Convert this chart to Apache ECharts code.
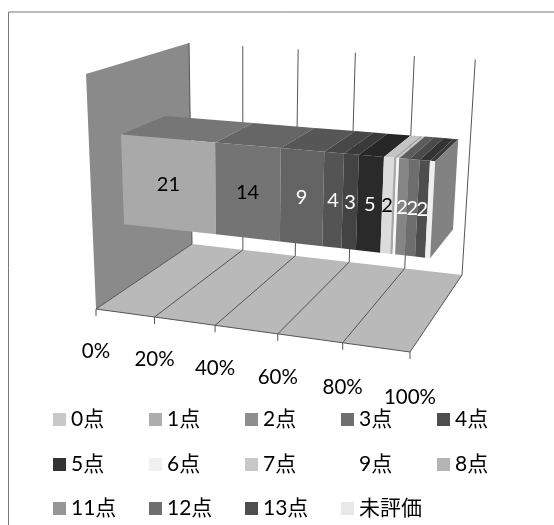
<!DOCTYPE html>
<html>
<head>
<meta charset="utf-8">
<style>html,body{margin:0;padding:0;background:#fff}#chart{width:554px;height:525px}</style>
<script src="https://cdn.jsdelivr.net/npm/echarts@6/dist/echarts.min.js"></script>
</head>
<body>
<div id="chart"></div>
<script>
// Score distribution: one 100% stacked bar shown in a perspective box.
const scoreNames = ['0点','1点','2点','3点','4点','5点','6点','7点','9点','8点','11点','12点','13点','未評価'];
const scoreCounts = [21,14,9,4,3,5,2,0.5,0.5,0,2,2,2,1];
const shownLabels = [21,14,9,4,3,5,2,null,null,null,2,2,2,null];
const frontColors = ['#a9a9a9','#747474','#646464','#545454','#434343','#2a2a2a','#dcdcdc','#a8a8a8','#f6f6f6','#b0b0b0','#858585','#6e6e6e','#4e4e4e','#eeeeee'];
const topColors = ['#767676','#666666','#565656','#474747','#3a3a3a','#262626','#c4c4c4','#a0a0a0','#c8c8c8','#999999','#5c5c5c','#4a4a4a','#333333','#3a3a3a'];
const legendColors = ['#c8c8c8','#aeaeae','#8e8e8e','#6e6e6e','#4e4e4e','#333333','#f0f0f0','#c8c8c8','#ffffff','#b4b4b4','#969696','#6e6e6e','#4e4e4e','#e8e8e8'];
const labelColors = ['#000','#000','#fff','#fff','#fff','#fff','#000','#fff','#fff','#fff','#fff','#fff','#fff','#fff'];
const percentTicks = [0,20,40,60,80,100];
const legendRows = [['0点','1点','2点','3点','4点'],['5点','6点','7点','9点','8点'],['11点','12点','13点','未評価']];

const FONT = 'Lato, "Noto Sans CJK JP", sans-serif';

// Pinhole-style projection of the unit box: u along the value axis, v into the depth, w upward.
const origin = [96,309], uEnd = [410,352], vEnd = [192,244], wEnd = [86,74];
const alpha = -0.0838, beta = 0.1791, gamma = -0.063;
const basis = [[uEnd,alpha],[vEnd,beta],[wEnd,gamma]].map(([e,k]) => [(1+k)*e[0]-origin[0],(1+k)*e[1]-origin[1]]);
function project(u,v,w){
  const d = 1+alpha*u+beta*v+gamma*w;
  return [
    (origin[0]+u*basis[0][0]+v*basis[1][0]+w*basis[2][0])/d,
    (origin[1]+u*basis[0][1]+v*basis[1][1]+w*basis[2][1])/d
  ];
}
const barFront = 0.28, barBack = 0.72, barLow = 0.3, barHigh = 0.7;

// Value axis position expressed as a fraction of the plot width.
function axisFraction(params,api,pct){
  const cs = params.coordSys;
  return (api.coord([pct,0])[0]-cs.x)/cs.width;
}
function poly(points,fill){
  return {type:'polygon',shape:{points},style:{fill,stroke:null}};
}
function line(a,b,stroke,width){
  return {type:'line',shape:{x1:a[0],y1:a[1],x2:b[0],y2:b[1]},style:{stroke,lineWidth:width||1}};
}

const total = scoreCounts.reduce((a,b)=>a+b,0);
let running = 0;
const barSeries = scoreNames.map((name,i)=>{
  const start = running/total*100;
  running += scoreCounts[i];
  const end = running/total*100;
  return {
    name,
    type:'custom',
    coordinateSystem:'cartesian2d',
    z:3,
    itemStyle:{color:legendColors[i]},
    encode:{x:[0,1]},
    silent:true,
    data:[[start,end,scoreCounts[i]]],
    renderItem(params,api){
      if(api.value(2)===0) return null;
      const a = axisFraction(params,api,api.value(0));
      const b = axisFraction(params,api,api.value(1));
      const children = [
        poly([project(a,barFront,barHigh),project(a,barBack,barHigh),project(b,barBack,barHigh),project(b,barFront,barHigh)],topColors[i]),
        poly([project(a,barFront,barLow),project(b,barFront,barLow),project(b,barFront,barHigh),project(a,barFront,barHigh)],frontColors[i])
      ];
      if(api.value(1)>=99.999){
        children.push(poly([project(b,barFront,barLow),project(b,barBack,barLow),project(b,barBack,barHigh),project(b,barFront,barHigh)],'#828282'));
      }
      if(shownLabels[i]!==null){
        const c = project((a+b)/2,barFront,(barLow+barHigh)/2);
        children.push({type:'text',z2:10,style:{x:c[0],y:c[1],text:String(shownLabels[i]),fill:labelColors[i],font:'20px '+FONT,align:'center',verticalAlign:'middle'}});
      }
      return {type:'group',children};
    }
  };
});

// Walls, floor, gridlines, axis ticks and axis labels, one element group per tick.
const sceneSeries = {
  name:'scene',
  type:'custom',
  coordinateSystem:'cartesian2d',
  z:1,
  silent:true,
  encode:{x:0},
  data:percentTicks.map(t=>[t]),
  renderItem(params,api){
    const u = axisFraction(params,api,api.value(0));
    const children = [];
    if(params.dataIndex===0){
      const r = axisFraction(params,api,percentTicks[percentTicks.length-1]);
      children.push(poly([project(0,0,0),project(0,1,0),project(0,1,1),project(0,0,1)],'#8a8a8a'));
      children.push(poly([project(0,0,0),project(r,0,0),project(r,1,0),project(0,1,0)],'#b9b9b9'));
    }
    const frontFoot = project(u,0,0);
    children.push(line(project(u,1,0),project(u,1,1),'#555'));
    children.push(line(project(u,0,0),project(u,1,0),'#555'));
    children.push(line(frontFoot,[frontFoot[0],frontFoot[1]+7],'#555'));
    if(params.dataIndex>0){
      const prev = axisFraction(params,api,percentTicks[params.dataIndex-1]);
      children.push(line(project(prev,0,0),project(u,0,0),'#555'));
    }
    children.push({type:'text',style:{x:frontFoot[0],y:frontFoot[1]+42+3*u,text:api.value(0)+'%',fill:'#000',font:'20.5px '+FONT,align:'center',verticalAlign:'middle'}});
    return {type:'group',children};
  }
};

// Legend entries sit on a fixed column grid, so each one gets its own component.
const legendLeft = 53, legendPitch = 96, legendTops = [409,454,498];
const legends = [];
legendRows.forEach((row,k)=>row.forEach((name,c)=>legends.push({
  data:[name],
  left:legendLeft+c*legendPitch,
  top:legendTops[k],
  itemWidth:13,
  itemHeight:13,
  icon:'rect',
  selectedMode:false,
  padding:0,
  textStyle:{color:'#000',fontFamily:FONT,fontSize:21}
})));

const chart = echarts.init(document.getElementById('chart'),null,{renderer:'canvas'});
chart.setOption({
  animation:false,
  backgroundColor:'#fff',
  grid:{left:0,right:0,top:0,bottom:0},
  xAxis:{type:'value',min:0,max:100,show:false},
  yAxis:{type:'value',min:0,max:1,show:false},
  legend:legends,
  graphic:[
    {type:'line',silent:true,shape:{x1:8.5,y1:12,x2:554,y2:12},style:{stroke:'#777',lineWidth:1}},
    {type:'line',silent:true,shape:{x1:8.5,y1:12,x2:8.5,y2:525},style:{stroke:'#777',lineWidth:1}}
  ],
  series:[sceneSeries].concat(barSeries)
});
</script>
</body>
</html>
